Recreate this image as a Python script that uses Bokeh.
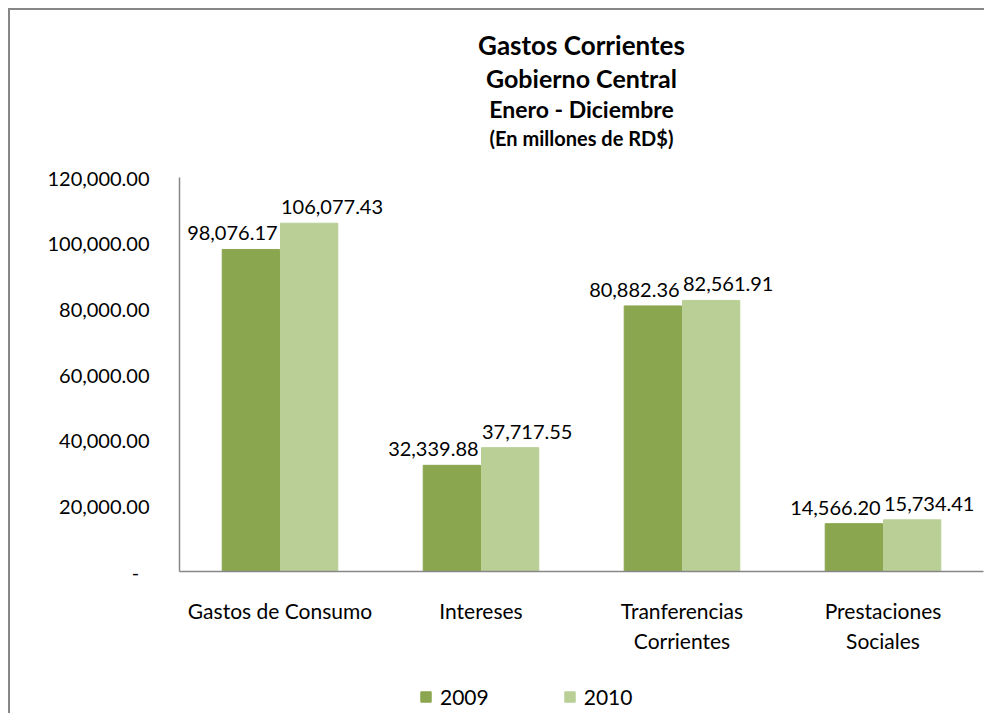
from bokeh.plotting import figure
from bokeh.models import (ColumnDataSource, FactorRange, Range1d, Title, Legend, LegendItem,
                          NumeralTickFormatter, FixedTicker)
from bokeh.layouts import column
from bokeh.transform import dodge
from bokeh.core.properties import value
from bokeh.embed import file_html
from bokeh.resources import INLINE

categories = ["Gastos de Consumo", "Intereses", "Tranferencias\nCorrientes", "Prestaciones\nSociales"]
values_2009 = [98076.17, 32339.88, 80882.36, 14566.20]
values_2010 = [106077.43, 37717.55, 82561.91, 15734.41]
series_names = ["2009", "2010"]
y_ticks = [0, 20000, 40000, 60000, 80000, 100000, 120000]
title_lines = ["Gastos Corrientes", "Gobierno Central", "Enero - Diciembre", "(En millones de RD$)"]

FONT = "Lato"
C2009 = "#8AA64E"
C2010 = "#B9CF96"

src = ColumnDataSource(dict(
    cat=categories,
    v09=values_2009,
    v10=values_2010,
    l09=[f"{v:,.2f}" for v in values_2009],
    l10=[f"{v:,.2f}" for v in values_2010],
))

p = figure(width=974, height=673, output_backend="svg", toolbar_location=None,
           x_range=FactorRange(*categories, range_padding=0),
           y_range=Range1d(0, 120000), title=None,
           min_border_left=169, min_border_right=1, min_border_bottom=112, min_border_top=167,
           tools="")
p.outline_line_color = None
p.grid.grid_line_color = None
p.background_fill_color = "white"
p.border_fill_color = "white"

r09 = p.vbar(x=dodge("cat", -0.145, range=p.x_range), top="v09", width=0.285, source=src,
             fill_color=C2009, line_color=C2009)
r10 = p.vbar(x=dodge("cat", 0.145, range=p.x_range), top="v10", width=0.285, source=src,
             fill_color=C2010, line_color=C2010)

p.text(x=dodge("cat", -0.012, range=p.x_range), y="v09", text="l09", source=src,
       text_align="right", text_baseline="bottom", y_offset=-9,
       text_font=value(FONT), text_font_size="20px", text_color="black")
p.text(x=dodge("cat", 0.005, range=p.x_range), y="v10", text="l10", source=src,
       text_align="left", text_baseline="bottom", y_offset=-9,
       text_font=value(FONT), text_font_size="20px", text_color="black")

for ax in (p.xaxis[0], p.yaxis[0]):
    ax.axis_line_color = "#878787"
    ax.axis_line_width = 1.5
    ax.major_tick_line_color = None
    ax.minor_tick_line_color = None
    ax.major_label_text_font = FONT
    ax.major_label_text_color = "black"

p.yaxis[0].major_label_text_font_size = "20px"
p.xaxis[0].major_label_text_font_size = "21px"
p.yaxis[0].ticker = FixedTicker(ticks=y_ticks)
p.yaxis[0].formatter = NumeralTickFormatter(format="0,0.00")
p.yaxis[0].major_label_overrides = {0: "-\u00a0\u00a0"}
p.yaxis[0].major_label_standoff = 24
p.xaxis[0].major_label_standoff = 20

# titles: first added sits nearest the plot; a blank spacer line first
p.add_layout(Title(text="\u00a0", text_font=FONT, text_font_size="20px", standoff=0), "above")
title_sizes = ["26px", "25px", "23px", "20px"]
title_standoffs = [0, 0, 0, 3]
for txt, sz, so in reversed(list(zip(title_lines, title_sizes, title_standoffs))):
    p.add_layout(Title(text=txt, align="center", offset=-45, text_font=FONT, text_font_size=sz,
                       text_font_style="bold", text_color="black", standoff=so), "above")

# legend strip below the chart (its frame is aligned with the chart frame)
pl = figure(width=974, height=30, output_backend="svg", toolbar_location=None, tools="",
            x_range=Range1d(0, 1), y_range=Range1d(0, 1),
            x_axis_location=None, y_axis_location=None, min_border=0, title=None)
pl.outline_line_color = None
pl.grid.grid_line_color = None
lr09 = pl.vbar(x="v09", top=0, width=0, source=src, fill_color=C2009, line_color=C2009)
lr10 = pl.vbar(x="v10", top=0, width=0, source=src, fill_color=C2010, line_color=C2010)
legend = Legend(items=[LegendItem(label=series_names[0], renderers=[lr09]),
                       LegendItem(label=series_names[1], renderers=[lr10])],
                orientation="horizontal", location=(240, 4),
                label_text_font=FONT, label_text_font_size="21px", label_text_color="black",
                glyph_width=13, glyph_height=13, label_standoff=8, spacing=74,
                label_height=20,
                border_line_color=None, background_fill_alpha=0, margin=0, padding=0)
pl.add_layout(legend)

layout = column(p, pl, margin=(8, 0, 0, 8),
                styles={"border-top": "2px solid #878787", "border-left": "2px solid #878787"})

open("out.html", "w").write(file_html(layout, INLINE))
